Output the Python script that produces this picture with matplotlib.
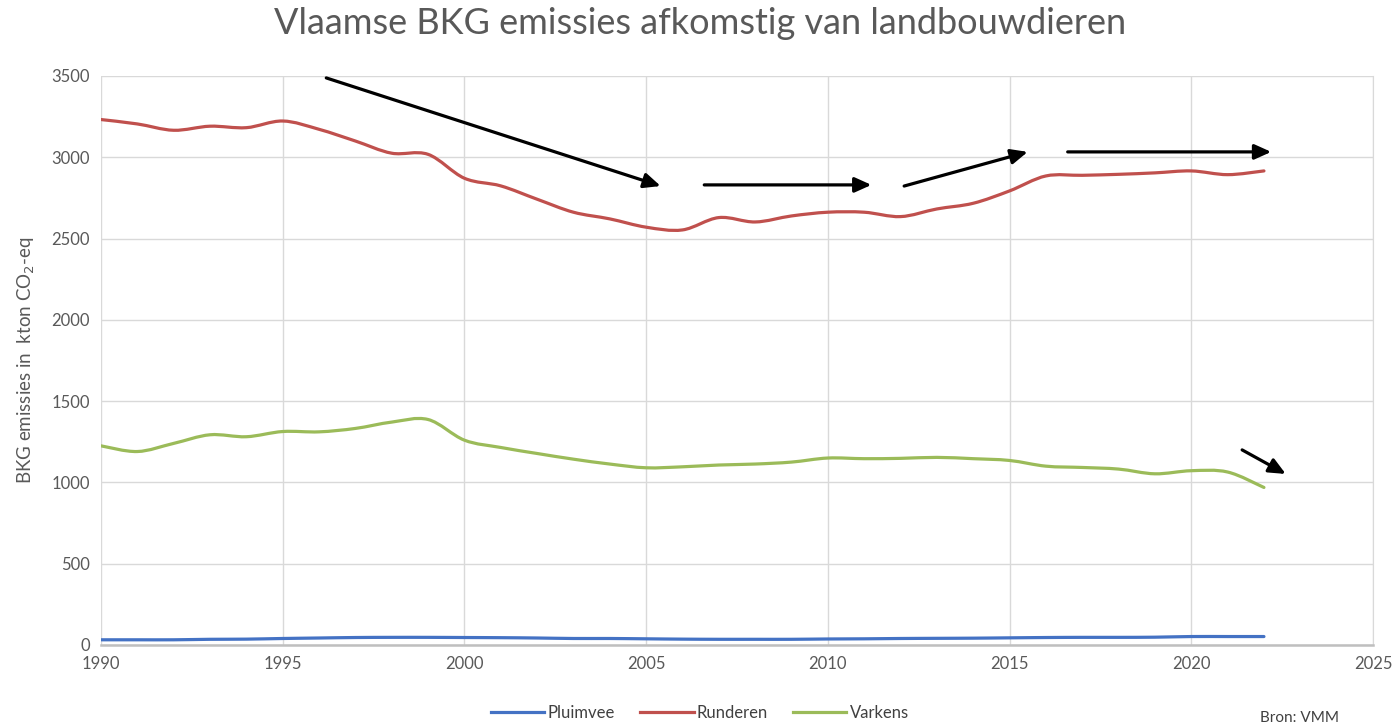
import numpy as np
import matplotlib
matplotlib.use('Agg')
import matplotlib.pyplot as plt
from matplotlib.path import Path
from matplotlib.patches import PathPatch

plt.rcParams['font.family'] = ['Lato', 'DejaVu Sans']

years = list(range(1990, 2023))
pluimvee = [32, 32, 32, 35, 36, 40, 43, 46, 47, 47, 46, 45, 43, 40, 40, 38, 36,
            35, 35, 35, 37, 38, 40, 41, 42, 44, 46, 47, 47, 48, 52, 52, 52]
runderen = [3232, 3205, 3166, 3191, 3182, 3223, 3172, 3100, 3025, 3018, 2871,
            2824, 2742, 2662, 2621, 2570, 2553, 2629, 2602, 2639, 2662, 2662,
            2635, 2682, 2717, 2793, 2885, 2889, 2895, 2904, 2916, 2893, 2916]
varkens = [1225, 1190, 1240, 1293, 1281, 1313, 1311, 1332, 1371, 1387, 1260,
           1215, 1178, 1143, 1113, 1090, 1096, 1107, 1113, 1125, 1150, 1146,
           1148, 1154, 1146, 1135, 1100, 1092, 1082, 1053, 1072, 1064, 969]

series_names = ['Pluimvee', 'Runderen', 'Varkens']
series_colors = ['#4472C4', '#C0504D', '#9BBB59']

# trend arrows (start, end) in data units
trend_arrows = [
    ((1996.2, 3488), (2005.4, 2823)),
    ((2006.6, 2830), (2011.2, 2830)),
    ((2012.1, 2823), (2015.5, 3033)),
    ((2016.6, 3033), (2022.2, 3033)),
    ((2021.4, 1200), (2022.6, 1052)),
]


def smooth_path(x, y):
    # excel-like smoothed line: catmull-rom as cubic bezier segments
    x = np.asarray(x, float)
    y = np.asarray(y, float)
    pts = np.column_stack([x, y])
    verts = [pts[0]]
    codes = [Path.MOVETO]
    n = len(pts)
    for i in range(n - 1):
        p0 = pts[i - 1] if i > 0 else pts[i]
        p1 = pts[i]
        p2 = pts[i + 1]
        p3 = pts[i + 2] if i + 2 < n else pts[i + 1]
        c1 = p1 + (p2 - p0) / 6.0
        c2 = p2 - (p3 - p1) / 6.0
        verts += [c1, c2, p2]
        codes += [Path.CURVE4] * 3
    return Path(verts, codes)


fig = plt.figure(figsize=(14, 7.27), dpi=100)
ax = fig.add_axes([0.0721, 0.1128, 0.9086, 0.7827])

for name, vals, col in zip(series_names, [pluimvee, runderen, varkens], series_colors):
    patch = PathPatch(smooth_path(years, vals), facecolor='none', edgecolor=col,
                      lw=2.3, capstyle='round', joinstyle='round')
    ax.add_patch(patch)
    ax.plot([], [], color=col, lw=2.3, label=name)

for (x0, y0), (x1, y1) in trend_arrows:
    ax.annotate('', xy=(x1, y1), xytext=(x0, y0),
                arrowprops=dict(arrowstyle='-|>,head_length=1.0,head_width=0.45',
                                color='black', lw=2.3, shrinkA=0, shrinkB=0))

ax.set_xlim(1990, 2025)
ax.set_ylim(0, 3500)
ax.set_xticks(range(1990, 2026, 5))
ax.set_yticks(range(0, 3501, 500))
ax.grid(True, color='#d9d9d9', lw=1)
ax.set_axisbelow(True)
ax.tick_params(length=0, labelsize=12, labelcolor='#595959', pad=8)
for s in ['top', 'left']:
    ax.spines[s].set_visible(False)
ax.spines['right'].set_color('#d9d9d9')
ax.spines['bottom'].set_color('#bfbfbf')
ax.spines['bottom'].set_linewidth(1.8)

ax.set_ylabel('BKG emissies in  kton CO$_2$-eq', fontsize=13.5, color='#595959', labelpad=10)

fig.suptitle('Vlaamse BKG emissies afkomstig van landbouwdieren', fontsize=26,
             color='#595959', y=0.99)

fig.legend(loc='lower center', ncol=3, frameon=False, fontsize=12,
           bbox_to_anchor=(0.5, -0.012), handlelength=3.2, columnspacing=1.5,
           handletextpad=0.2, labelcolor='#404040')

fig.text(0.9, 0.003, 'Bron: VMM', fontsize=11, color='#404040', va='bottom')

fig.savefig('out.png', dpi=100)
